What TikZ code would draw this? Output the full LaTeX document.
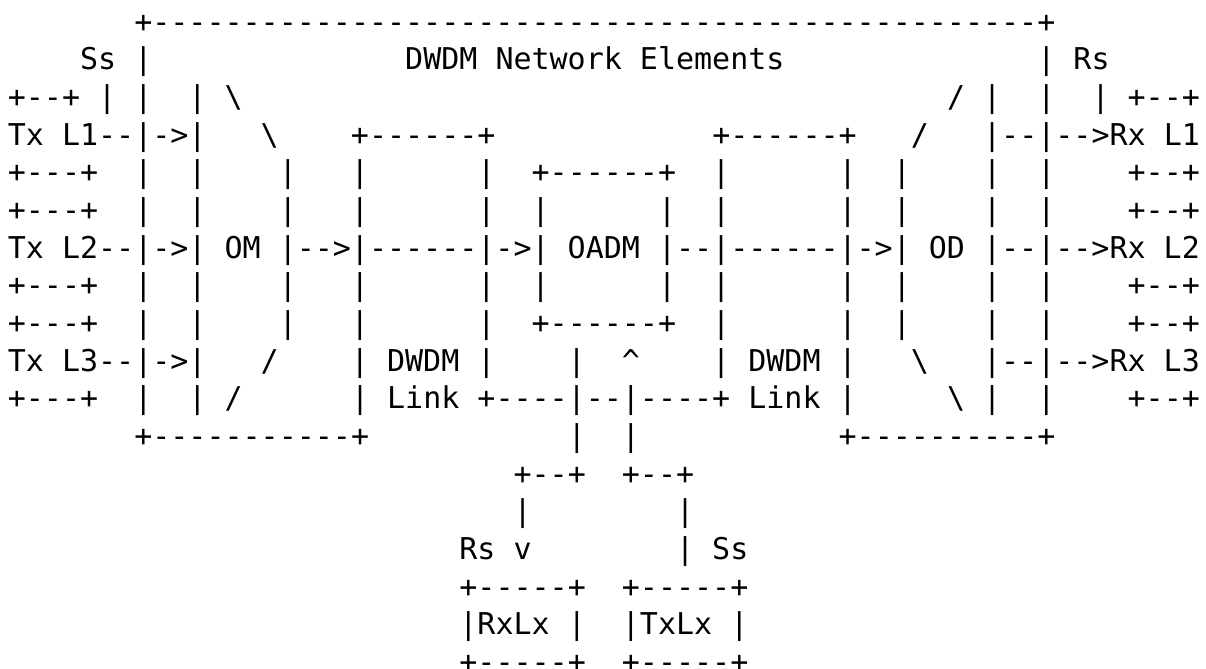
\documentclass[tikz,border=0pt]{standalone}
\usepackage{fontspec}
\setmonofont{DejaVu Sans Mono}
\usepackage{tikz}

% n blank columns of the monospace grid
\newcommand\sk[1]{\hspace*{#1\fontcharwd\font`x}}
\newcommand\bs{\textbackslash}
\newcommand\up{\textasciicircum}

\tikzset{
	row/.style={anchor=base west, inner sep=0pt, outer sep=0pt,
		font=\ttfamily\fontsize{15}{18}\selectfont},
}

\begin{document}
\begin{tikzpicture}[x=9.03pt, y=-18.825pt]
	\useasboundingbox (0pt,0pt) rectangle (603pt,-334.5pt);
	\begin{scope}[shift={(0.435,-0.1408)}]
		% network element frame
		\node[row] (r1) at (0,1) {\sk{7}+-------------------------------------------------+};
		\node[row] (r2) at (0,2) {\sk{4}Ss~|\sk{14}DWDM Network Elements\sk{14}|~Rs};
		\node[row] (r3) at (0,3) {+--+~|~|\sk{2}|~\bs\sk{39}/~|\sk{2}|\sk{2}|~+--+};
		\node[row] (r4) at (0,4) {Tx~L1--|->|\sk{3}\bs\sk{4}+------+\sk{12}+------+\sk{3}/\sk{3}|--|-->Rx~L1};
		\node[row] (r5) at (0,5) {+---+\sk{2}|\sk{2}|\sk{4}|\sk{3}|\sk{6}|\sk{2}+------+\sk{2}|\sk{6}|\sk{2}|\sk{4}|\sk{2}|\sk{4}+--+};
		\node[row] (r6) at (0,6) {+---+\sk{2}|\sk{2}|\sk{4}|\sk{3}|\sk{6}|\sk{2}|\sk{6}|\sk{2}|\sk{6}|\sk{2}|\sk{4}|\sk{2}|\sk{4}+--+};
		% main line through OM, OADM and OD
		\node[row] (r7) at (0,7) {Tx~L2--|->|~OM~|-->|------|->|~OADM~|--|------|->|~OD~|--|-->Rx~L2};
		\node[row] (r8) at (0,8) {+---+\sk{2}|\sk{2}|\sk{4}|\sk{3}|\sk{6}|\sk{2}|\sk{6}|\sk{2}|\sk{6}|\sk{2}|\sk{4}|\sk{2}|\sk{4}+--+};
		\node[row] (r9) at (0,9) {+---+\sk{2}|\sk{2}|\sk{4}|\sk{3}|\sk{6}|\sk{2}+------+\sk{2}|\sk{6}|\sk{2}|\sk{4}|\sk{2}|\sk{4}+--+};
		\node[row] (r10) at (0,10) {Tx~L3--|->|\sk{3}/\sk{4}|~DWDM~|\sk{4}|\sk{2}\up\sk{4}|~DWDM~|\sk{3}\bs\sk{3}|--|-->Rx~L3};
		\node[row] (r11) at (0,11) {+---+\sk{2}|\sk{2}|~/\sk{6}|~Link~+----|--|----+~Link~|\sk{5}\bs~|\sk{2}|\sk{4}+--+};
		\node[row] (r12) at (0,12) {\sk{7}+-----------+\sk{11}|\sk{2}|\sk{11}+----------+};
		% add/drop ports
		\node[row] (r13) at (0,13) {\sk{28}+--+\sk{2}+--+};
		\node[row] (r14) at (0,14) {\sk{28}|\sk{8}|};
		\node[row] (r15) at (0,15) {\sk{25}Rs~v\sk{8}|~Ss};
		\node[row] (r16) at (0,16) {\sk{25}+-----+\sk{2}+-----+};
		\node[row] (r17) at (0,17) {\sk{25}|RxLx~|\sk{2}|TxLx~|};
		\node[row] (r18) at (0,18) {\sk{25}+-----+\sk{2}+-----+};
	\end{scope}
\end{tikzpicture}
\end{document}
